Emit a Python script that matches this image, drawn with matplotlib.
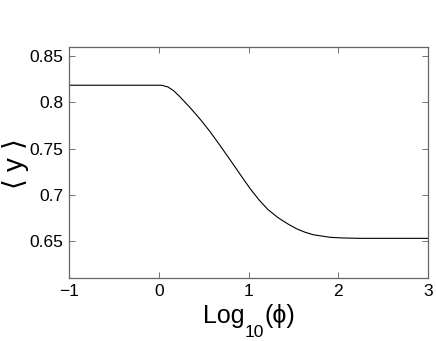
import matplotlib
matplotlib.use('Agg')
import matplotlib.pyplot as plt

# curve
log_phi = [-1.0, 0.0, 0.033, 0.10, 0.162, 0.237, 0.348, 0.460, 0.571, 0.682, 0.794, 0.905,
           1.017, 1.117, 1.217, 1.33, 1.44, 1.537, 1.63, 1.722, 1.908, 2.05, 2.242, 3.0]
mean_y = [0.8186, 0.8186, 0.8186, 0.8168, 0.8130, 0.8060, 0.7945, 0.7820, 0.7684, 0.7535,
          0.7380, 0.7224, 0.7068, 0.6945, 0.6840, 0.6752, 0.6684, 0.6632, 0.6595, 0.6568,
          0.6540, 0.6533, 0.6529, 0.6529]

xticks = [-1, 0, 1, 2, 3]
xticklabels = ['\u22121', '0', '1', '2', '3']
yticks = [0.65, 0.7, 0.75, 0.8, 0.85]
yticklabels = ['0.65', '0.7', '0.75', '0.8', '0.85']

plt.rcParams['font.family'] = ['Liberation Sans', 'DejaVu Sans']

W, H = 436, 341
fig = plt.figure(figsize=(W / 100, H / 100), dpi=100)
ax = fig.add_axes([0.1583, 0.1848, 0.8234, 0.6774])

ax.plot(log_phi, mean_y, color='black', linewidth=0.8)

ax.set_xlim(-1, 3)
ax.set_ylim(0.61, 0.86)
ax.set_xticks(xticks)
ax.set_xticklabels(xticklabels)
ax.set_yticks(yticks)
ax.set_yticklabels(yticklabels)
ax.tick_params(direction='in', length=4, width=0.6, labelsize=12.5,
               top=True, right=True, colors='0.35', labelcolor='black', pad=4)
for s in ax.spines.values():
    s.set_linewidth(0.9)
    s.set_color('0.4')

# x label built from pieces so the subscript sits low like the original
renderer = fig.canvas.get_renderer()
base_y = 1 - 323 / H
t1 = fig.text(203 / W, base_y, 'Log', fontsize=18, va='baseline', ha='left')
x1 = t1.get_window_extent(renderer).x1
t2 = fig.text(x1 / W, base_y - 14 / H, '10', fontsize=12.5, va='baseline', ha='left')
x2 = t2.get_window_extent(renderer).x1
fig.text(x2 / W + 1 / W, base_y, '(\u03d5)', fontsize=18, va='baseline', ha='left')

ax.set_ylabel(r'$\langle$ y $\rangle$', fontsize=20)
ax.yaxis.set_label_coords(-0.107, 0.49)

fig.savefig('out.png', dpi=100)
